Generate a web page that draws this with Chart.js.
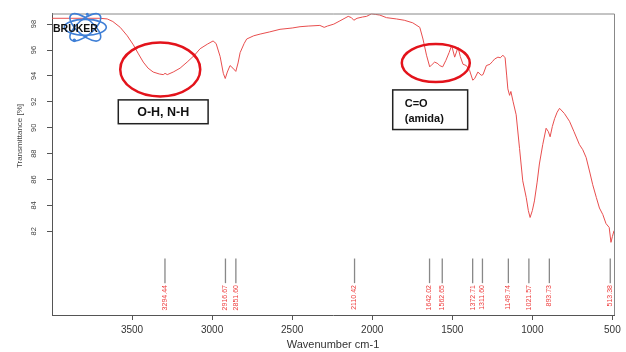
<!DOCTYPE html>
<html><head><meta charset="utf-8">
<style>html,body{margin:0;padding:0;background:#fff;} canvas{display:block;}</style>
<script src="https://cdn.jsdelivr.net/npm/chart.js@4.4.1/dist/chart.umd.min.js"></script>
</head><body>
<canvas id="c" width="626" height="352"></canvas>
<script>
const wavenumbers = [4000,3900,3800,3700,3655,3620,3574,3530,3492,3460,3430,3400,3368,3330,3305,3294,3280,3243,3200,3156,3110,3075,3030,2994,2975,2950,2930,2918,2905,2888,2870,2852,2838,2825,2800,2784,2740,2700,2640,2576,2500,2451,2400,2327,2300,2280,2240,2202,2150,2130,2115,2095,2060,2035,2004,1980,1953,1911,1849,1800,1747,1703,1683,1661,1641,1625,1610,1590,1579,1560,1540,1520,1504,1485,1464,1450,1433,1412,1392,1372,1360,1340,1319,1308,1287,1265,1250,1236,1215,1200,1184,1170,1160,1153,1142,1134,1120,1101,1080,1060,1038,1025,1014,1000,987,970,956,935,914,900,889,875,861,845,830,800,768,740,706,685,664,640,623,600,581,560,540,520,509,500,490];
const transmittance = [98.45,98.45,98.45,98.45,98.4,98.2,97.75,97.1,96.4,95.7,95.07,94.6,94.3,94.15,94.1,94.2,94.1,94.3,94.6,95.07,95.6,96.1,96.45,96.7,96.5,95.5,94.2,93.8,94.3,94.8,94.6,94.35,95.0,95.8,96.5,96.85,97.1,97.23,97.4,97.6,97.7,97.8,97.85,97.9,97.75,97.85,98.0,98.25,98.6,98.5,98.3,98.45,98.55,98.6,98.8,98.75,98.7,98.5,98.4,98.3,98.1,97.75,96.85,95.6,94.7,94.9,95.07,94.95,94.8,94.7,95.2,95.8,96.35,95.45,96.2,95.5,94.9,94.8,94.43,93.67,93.8,94.3,94.05,94.1,94.8,94.9,95.1,95.3,95.45,95.4,95.6,95.4,94.0,93.0,92.5,92.8,92.0,91.0,88.4,85.9,84.6,83.6,83.07,83.6,84.35,85.8,87.2,88.7,89.96,89.7,89.3,90.1,90.7,91.2,91.5,91.1,90.5,89.7,88.7,88.3,87.7,86.5,85.6,84.6,83.8,83.3,82.6,82.3,81.15,81.6,82.05];
const peakPositions = [3294.44,2916.67,2851.60,2110.42,1642.02,1562.65,1372.71,1311.60,1149.74,1021.57,893.73,513.38];
const peakLabels = ['3294.44','2916.67','2851.60','2110.42','1642.02','1562.65','1372.71','1311.60','1149.74','1021.57','893.73','513.38'];
const xTickValues = [3500,3000,2500,2000,1500,1000,500];
const yTickValues = [82,84,86,88,90,92,94,96,98];
const xTitle = 'Wavenumber cm-1';
const yTitle = 'Transmittance [%]';
const noteOH = ['O-H, N-H'];
const noteCO = ['C=O','(amida)'];
const logoText = 'BRUKER';

const FONT = "'Liberation Sans', Arial, sans-serif";

const deco = {
  id: 'deco',
  afterDatasetsDraw(chart) {
    const ctx = chart.ctx, xs = chart.scales.x, ys = chart.scales.y, ca = chart.chartArea;
    const px = v => xs.getPixelForValue(v), py = v => ys.getPixelForValue(v);
    ctx.save();
    // frame top/right
    ctx.strokeStyle = '#888'; ctx.lineWidth = 1;
    ctx.beginPath();
    ctx.moveTo(ca.left, ca.top + 0.5); ctx.lineTo(ca.right + 0.5, ca.top + 0.5); ctx.lineTo(ca.right + 0.5, ca.bottom);
    ctx.stroke();
    // peak markers
    peakPositions.forEach((p, i) => {
      const x = px(p);
      ctx.strokeStyle = '#888'; ctx.lineWidth = 1.3;
      ctx.beginPath(); ctx.moveTo(x, py(79.9)); ctx.lineTo(x, py(78.0)); ctx.stroke();
      ctx.save();
      ctx.translate(x, py(77.85));
      ctx.rotate(-Math.PI / 2);
      ctx.fillStyle = '#ee3b3b';
      ctx.font = '7px ' + FONT;
      ctx.textAlign = 'right'; ctx.textBaseline = 'middle';
      ctx.fillText(peakLabels[i], 0, 0);
      ctx.restore();
    });
    // red ellipses
    ctx.strokeStyle = '#e3131b'; ctx.lineWidth = 2.5;
    ctx.beginPath(); ctx.ellipse(px(3324), py(94.5), 40, 27, 0, 0, Math.PI * 2); ctx.stroke();
    ctx.beginPath(); ctx.ellipse(px(1603), py(94.99), 34, 19, 0, 0, Math.PI * 2); ctx.stroke();
    // note boxes
    ctx.strokeStyle = '#222'; ctx.lineWidth = 1.5; ctx.fillStyle = '#fff';
    let x1 = px(3586), x2 = px(3025), y1 = py(92.15), y2 = py(90.31);
    ctx.fillRect(x1, y1, x2 - x1, y2 - y1); ctx.strokeRect(x1, y1, x2 - x1, y2 - y1);
    ctx.fillStyle = '#111'; ctx.font = 'bold 12.5px ' + FONT; ctx.textAlign = 'center'; ctx.textBaseline = 'middle';
    ctx.fillText(noteOH[0], (x1 + x2) / 2, (y1 + y2) / 2 + 1);
    x1 = px(1872); x2 = px(1404); y1 = py(92.92); y2 = py(89.86);
    ctx.fillStyle = '#fff';
    ctx.fillRect(x1, y1, x2 - x1, y2 - y1); ctx.strokeRect(x1, y1, x2 - x1, y2 - y1);
    ctx.fillStyle = '#111'; ctx.font = 'bold 11px ' + FONT; ctx.textAlign = 'left';
    ctx.fillText(noteCO[0], x1 + 12, y1 + 14);
    ctx.fillText(noteCO[1], x1 + 12, y1 + 29);
    // logo
    const lx = px(3792), ly = py(97.75);
    ctx.strokeStyle = '#3f7fd6'; ctx.lineWidth = 1.6;
    [[0, 21, 8], [0.7, 19, 8], [-0.7, 19, 8]].forEach(e => {
      ctx.beginPath(); ctx.ellipse(lx, ly, e[1], e[2], e[0], 0, Math.PI * 2); ctx.stroke();
    });
    ctx.fillStyle = '#3f7fd6';
    ctx.beginPath(); ctx.arc(lx - 11, ly + 13, 1.8, 0, Math.PI * 2); ctx.fill();
    ctx.beginPath(); ctx.arc(lx + 2, ly - 13, 1.5, 0, Math.PI * 2); ctx.fill();
    ctx.fillStyle = '#111'; ctx.font = 'bold 10.5px ' + FONT; ctx.textAlign = 'left'; ctx.textBaseline = 'middle';
    ctx.fillText(logoText, ca.left + 1, ly + 2);
    // y title
    ctx.save();
    ctx.translate(20, 136);
    ctx.rotate(-Math.PI / 2);
    ctx.fillStyle = '#444'; ctx.font = '8px ' + FONT; ctx.textAlign = 'center'; ctx.textBaseline = 'middle';
    ctx.fillText(yTitle, 0, 0);
    ctx.restore();
    ctx.restore();
  }
};

new Chart(document.getElementById('c'), {
  type: 'line',
  data: {
    datasets: [{
      data: wavenumbers.map((w, i) => ({ x: w, y: transmittance[i] })),
      borderColor: 'rgb(232,78,78)',
      borderWidth: 1,
      pointRadius: 0,
      tension: 0,
      fill: false
    }]
  },
  options: {
    responsive: false,
    animation: false,
    devicePixelRatio: 1,
    layout: { padding: { left: 0, right: 12, top: 11, bottom: 0 } },
    plugins: { legend: { display: false }, tooltip: { enabled: false } },
    scales: {
      x: {
        type: 'linear', reverse: true, min: 490, max: 4000,
        afterBuildTicks: s => { s.ticks = xTickValues.map(v => ({ value: v })); },
        afterFit: s => { s.height = 37; },
        grid: { drawOnChartArea: false, tickLength: 5, color: '#555' },
        border: { color: '#555', width: 1 },
        ticks: { font: { size: 10, family: FONT }, color: '#333', padding: 4, maxRotation: 0, autoSkip: false, callback: v => String(v) },
        title: { display: true, text: xTitle, font: { size: 11, family: FONT }, color: '#333', padding: { top: 0, bottom: 0 } }
      },
      y: {
        type: 'linear', min: 75.54, max: 98.82,
        afterBuildTicks: s => { s.ticks = yTickValues.map(v => ({ value: v })); },
        afterFit: s => { s.width = 52; },
        grid: { drawOnChartArea: false, tickLength: 5, color: '#555' },
        border: { color: '#555', width: 1 },
        ticks: { font: { size: 7.5, family: FONT }, color: '#444', minRotation: 90, maxRotation: 90, crossAlign: 'center', padding: 9, autoSkip: false, callback: v => String(v) }
      }
    }
  },
  plugins: [deco]
});
</script>
</body></html>
